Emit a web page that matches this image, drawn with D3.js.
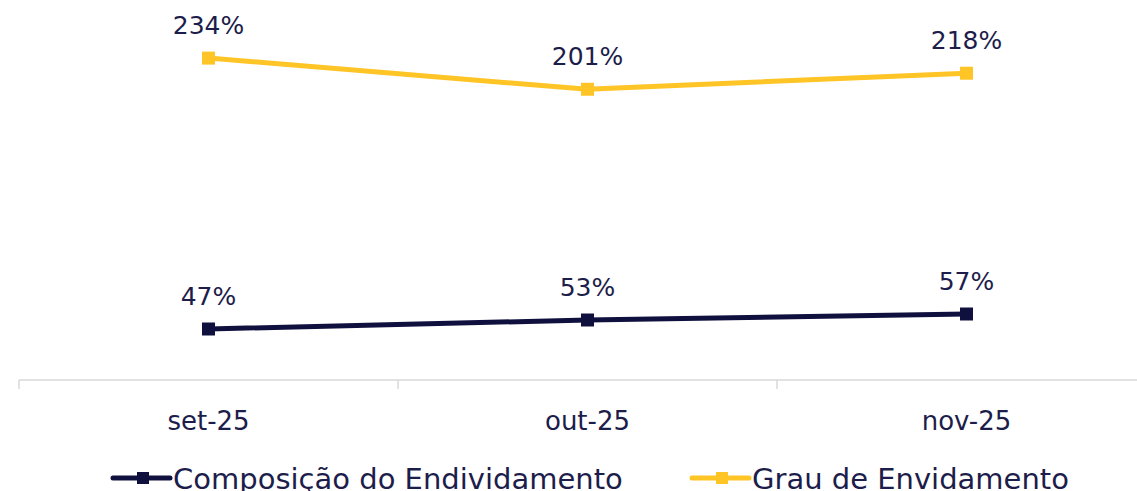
<!DOCTYPE html>
<html lang="pt">
<head>
    <meta charset="UTF-8">
    <title>Endividamento</title>
    <script src="https://cdn.jsdelivr.net/npm/d3@7/dist/d3.min.js"></script>
    <style>
        html, body { margin: 0; padding: 0; background: #fff; }
        svg { display: block; font-family: "DejaVu Sans", sans-serif; }
        .axis-line { stroke: #d9d9d9; stroke-width: 1.5px; }
        .lbl { fill: #1d1d4b; }
    </style>
</head>
<body>
<script>
    // chart size
    const width = 1137;
    const height = 491;

    // data
    const months = ['set-25', 'out-25', 'nov-25'];
    const composicao = [47, 53, 57];
    const grau = [234, 201, 218];
    const seriesNames = ['Composição do Endividamento', 'Grau de Envidamento'];
    const seriesColors = ['#10103f', '#ffc425'];

    let svg = d3.select('body')
        .append('svg')
        .attr('width', width)
        .attr('height', height);

    // x: one band per month
    let x = d3.scaleBand()
        .domain(months)
        .range([19, 1156]);

    // primary axis (composição) and secondary axis (grau), both hidden
    let yLeft = d3.scaleLinear().domain([0, 100]).range([399.5, 249.5]);
    let yRight = d3.scaleLinear().domain([0, 250]).range([279, 43]);

    const axisY = 380;

    // category axis
    svg.append('line')
        .attr('class', 'axis-line')
        .attr('x1', x.range()[0]).attr('x2', width)
        .attr('y1', axisY).attr('y2', axisY);

    svg.append('g')
        .selectAll('line')
        .data(months)
        .enter()
        .append('line')
        .attr('class', 'axis-line')
        .attr('x1', d => x(d)).attr('x2', d => x(d))
        .attr('y1', axisY).attr('y2', axisY + 9);

    svg.append('g')
        .selectAll('text')
        .data(months)
        .enter()
        .append('text')
        .attr('class', 'lbl')
        .attr('x', d => x(d) + x.bandwidth() / 2)
        .attr('y', 430)
        .attr('text-anchor', 'middle')
        .style('font-size', '26px')
        .text(d => d);

    const series = [
        { name: seriesNames[0], values: composicao, y: yLeft, color: seriesColors[0] },
        { name: seriesNames[1], values: grau, y: yRight, color: seriesColors[1] }
    ];

    const cx = (d, i) => x(months[i]) + x.bandwidth() / 2;

    series.forEach(s => {
        let line = d3.line()
            .x(cx)
            .y(d => s.y(d));

        svg.append('path')
            .datum(s.values)
            .attr('fill', 'none')
            .attr('stroke', s.color)
            .attr('stroke-width', 5)
            .attr('d', line);

        svg.append('g')
            .selectAll('rect')
            .data(s.values)
            .enter()
            .append('rect')
            .attr('x', (d, i) => cx(d, i) - 6.5)
            .attr('y', d => s.y(d) - 6.5)
            .attr('width', 13)
            .attr('height', 13)
            .attr('fill', s.color);

        // valores
        svg.append('g')
            .selectAll('text')
            .data(s.values)
            .enter()
            .append('text')
            .attr('class', 'lbl')
            .attr('x', cx)
            .attr('y', d => s.y(d) - 24)
            .attr('text-anchor', 'middle')
            .style('font-size', '25px')
            .text(d => d + '%');
    });

    // legenda
    const legendX = [113, 692];
    let legend = svg.append('g')
        .selectAll('g')
        .data(series)
        .enter()
        .append('g')
        .attr('transform', (d, i) => 'translate(' + legendX[i] + ',478)');

    legend.append('line')
        .attr('x1', 0).attr('x2', 57)
        .attr('stroke', d => d.color)
        .attr('stroke-width', 5)
        .attr('stroke-linecap', 'round');

    legend.append('rect')
        .attr('x', 24).attr('y', -6)
        .attr('width', 12).attr('height', 12)
        .attr('fill', d => d.color);

    legend.append('text')
        .attr('class', 'lbl')
        .attr('x', 60)
        .attr('y', 11)
        .style('font-size', '29px')
        .text(d => d.name);
</script>
</body>
</html>
